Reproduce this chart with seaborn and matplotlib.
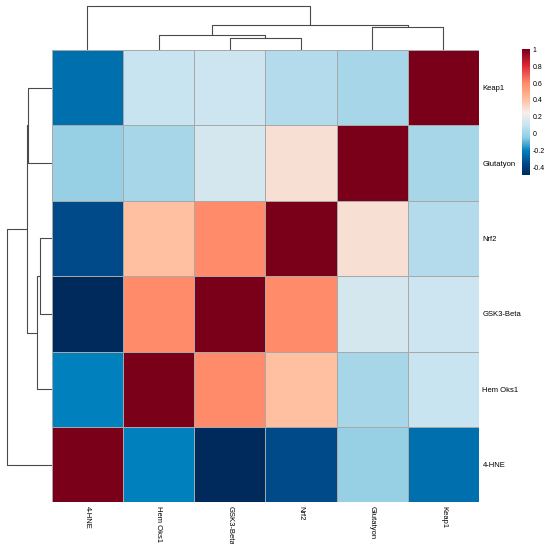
import matplotlib.pyplot as plt
import seaborn as sns
import numpy as np
import pandas as pd
from matplotlib.colors import LinearSegmentedColormap

# Labels (column order and row order as they appear in the clustered map)
col_labels = ["4-HNE", "Hem Oks1", "GSK3-Beta", "Nrf2", "Glutatyon", "Keap1"]
row_labels = ["Keap1", "Glutatyon", "Nrf2", "GSK3-Beta", "Hem Oks1", "4-HNE"]

# Correlations, each list follows col_labels order
hne = [1.00, -0.20, -0.49, -0.35, -0.02, -0.25]
hem = [-0.20, 1.00, 0.60, 0.40, 0.02, 0.10]
gsk = [-0.49, 0.60, 1.00, 0.60, 0.14, 0.11]
nrf2 = [-0.35, 0.40, 0.60, 1.00, 0.30, 0.05]
glut = [-0.02, 0.02, 0.14, 0.30, 1.00, 0.02]
keap = [-0.25, 0.10, 0.11, 0.05, 0.02, 1.00]

# Hierarchical clustering merges: (left, right, height); ints refer to earlier merges
merges = [
    ("GSK3-Beta", "Nrf2", 11.7),
    ("Hem Oks1", 0, 15.0),
    ("Glutatyon", "Keap1", 23.3),
    (1, 2, 25.0),
    ("4-HNE", 3, 44.3),
]

# Colour scale
cbar_ticks = [-0.4, -0.2, 0, 0.2, 0.4, 0.6, 0.8, 1]
vmin, vmax = -0.49, 1.0
anchors = [-0.49, -0.35, -0.2, -0.05, 0.1, 0.25, 0.4, 0.6, 0.8, 1.0]
anchor_colors = ["#002a5c", "#004a8a", "#0082bf", "#8ccbe3", "#c8e4f0",
                 "#f5efec", "#ffbfa0", "#ff8c6c", "#e0283a", "#7a0019"]

df = pd.DataFrame([hne, hem, gsk, nrf2, glut, keap], index=col_labels, columns=col_labels)
mat = df.loc[row_labels, col_labels]

cmap = LinearSegmentedColormap.from_list(
    "corr", [((a - vmin) / (vmax - vmin), c) for a, c in zip(anchors, anchor_colors)], N=256)


def dendro_segments(merges, pos):
    nodes = []
    segs = []

    def get(k):
        if isinstance(k, int):
            return nodes[k]
        return (pos[k], 0.0)

    for a, b, h in merges:
        xa, ha = get(a)
        xb, hb = get(b)
        segs.append(([xa, xa, xb, xb], [ha, h, h, hb]))
        nodes.append(((xa + xb) / 2, h))
    return segs


W, H = 550, 544
fig = plt.figure(figsize=(W / 100, H / 100), dpi=100)


def px_axes(x0, y0, x1, y1):
    return fig.add_axes([x0 / W, 1 - y1 / H, (x1 - x0) / W, (y1 - y0) / H])


ax_heat = px_axes(51.7, 50, 479, 502.3)
ax_col = px_axes(51.7, 5, 479, 50)
ax_row = px_axes(5, 50, 51.7, 502.3)
ax_cbar = px_axes(521.7, 49.3, 530, 175)

sns.heatmap(mat, cmap=cmap, vmin=vmin, vmax=vmax, linewidths=0.5, linecolor="#a8a8a8",
            ax=ax_heat, cbar_ax=ax_cbar, xticklabels=True, yticklabels=True)

font = "Liberation Sans"
ax_heat.yaxis.tick_right()
ax_heat.tick_params(axis="both", length=0, labelsize=5.5, pad=2.5)
ax_heat.set_yticklabels(row_labels, rotation=0, fontfamily=font)
ax_heat.set_xticklabels(col_labels, rotation=270, fontfamily=font)
ax_heat.set_xlabel("")
ax_heat.set_ylabel("")

cbar = ax_heat.collections[0].colorbar
cbar.set_ticks(cbar_ticks)
cbar.set_ticklabels([f"{t:g}" for t in cbar_ticks])
cbar.ax.tick_params(length=0, labelsize=5, pad=2)
for lab in cbar.ax.get_yticklabels():
    lab.set_fontfamily(font)
cbar.outline.set_visible(False)

# Column dendrogram
col_pos = {name: i + 0.5 for i, name in enumerate(col_labels)}
for xs, hs in dendro_segments(merges, col_pos):
    ax_col.plot(xs, hs, color="#4a4a4a", lw=0.8, solid_capstyle="butt")
ax_col.set_xlim(0, len(col_labels))
ax_col.set_ylim(0, 45)
ax_col.axis("off")

# Row dendrogram
row_pos = {name: i + 0.5 for i, name in enumerate(row_labels)}
for ys, hs in dendro_segments(merges, row_pos):
    ax_row.plot(hs, ys, color="#4a4a4a", lw=0.8, solid_capstyle="butt")
ax_row.set_ylim(len(row_labels), 0)
ax_row.set_xlim(46.7, 0)
ax_row.axis("off")

fig.savefig("out.png", dpi=100)
